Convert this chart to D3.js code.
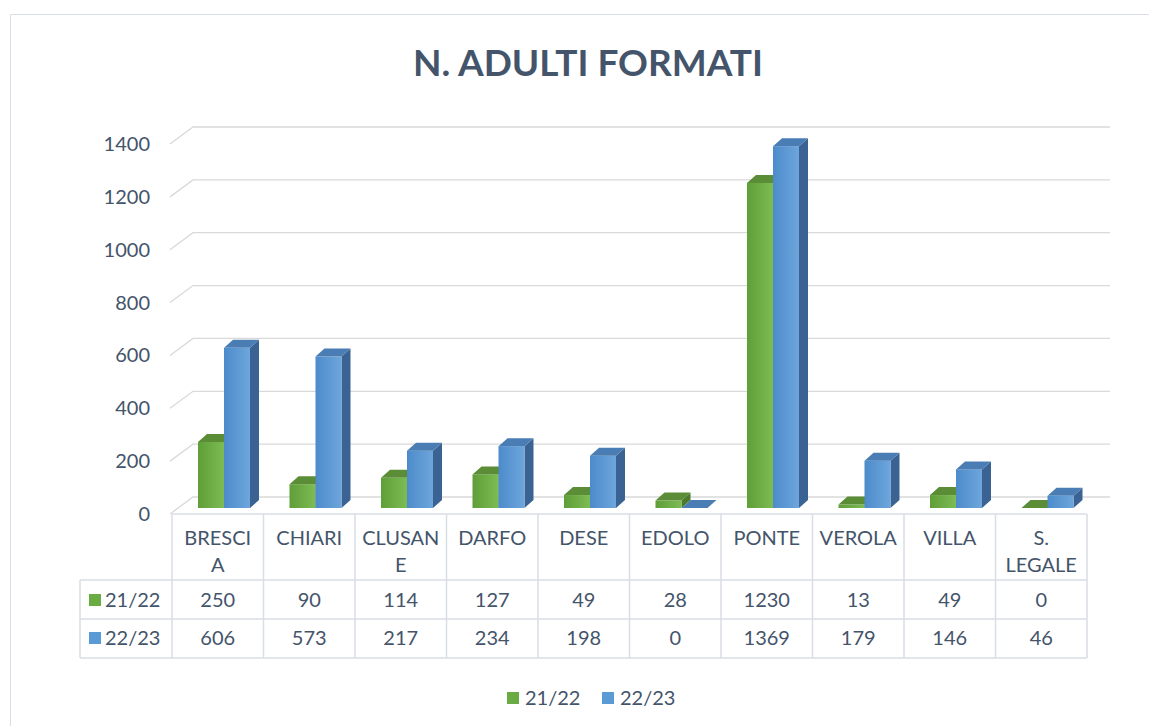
<!doctype html>
<html lang="it">
<head>
<meta charset="utf-8"/>
<title>N. ADULTI FORMATI</title>
<style>
  body { margin: 0; background: #fff; }
  text { font-family: Lato, "Open Sans", sans-serif; fill: #44546a; }
</style>
<script src="https://d3js.org/d3.v7.min.js"></script>
</head>
<body>
<svg width="1149" height="726"></svg>
<script>
var categories = ["BRESCIA", "CHIARI", "CLUSANE", "DARFO", "DESE", "EDOLO", "PONTE", "VEROLA", "VILLA", "S. LEGALE"];
// how labels wrap in the table header
var catLines = [["BRESCI", "A"], ["CHIARI"], ["CLUSAN", "E"], ["DARFO"], ["DESE"], ["EDOLO"], ["PONTE"], ["VEROLA"], ["VILLA"], ["S.", "LEGALE"]];
var series = ["21/22", "22/23"];
var values2122 = [250, 90, 114, 127, 49, 28, 1230, 13, 49, 0];
var values2223 = [606, 573, 217, 234, 198, 0, 1369, 179, 146, 46];
var yTicks = [0, 200, 400, 600, 800, 1000, 1200, 1400];

var svg = d3.select("svg");

// chart frame
svg.append("path")
   .attr("d", "M10.5,726 V14.5 H1149")
   .attr("fill", "none")
   .attr("stroke", "#d9dee6");

svg.append("text")
   .attr("x", 588)
   .attr("y", 76)
   .attr("text-anchor", "middle")
   .attr("font-size", "37px")
   .attr("font-weight", "bold")
   .text("N. ADULTI FORMATI");

var x = d3.scaleBand().domain(categories).range([172, 1087]);
var xs = d3.scaleBand().domain(series).range([26, 78]);
var h = d3.scaleLinear().domain([0, 1400]).range([0, 370]);

var gridFront = 514, gridBack = 497, backDx = 23;
var barBase = 508, depthX = 9, depthY = -8;

// gridlines (back wall + left wall)
var grid = svg.append("g");
yTicks.forEach(function(t) {
    var yf = gridFront - h(t), yb = gridBack - h(t);
    grid.append("path")
        .attr("d", "M170," + yf + " L" + (170 + backDx) + "," + yb + " H1110")
        .attr("fill", "none")
        .attr("stroke", "#d9d9d9")
        .attr("stroke-width", 1.3);
    grid.append("text")
        .attr("x", 150)
        .attr("y", yf)
        .attr("dy", "0.35em")
        .attr("text-anchor", "end")
        .attr("font-size", "20px")
        .text(t);
});

var defs = svg.append("defs");
function grad(id, c1, c2) {
    var g = defs.append("linearGradient").attr("id", id)
        .attr("x1", 0).attr("x2", 1).attr("y1", 0).attr("y2", 0);
    g.append("stop").attr("offset", "0%").attr("stop-color", c1);
    g.append("stop").attr("offset", "100%").attr("stop-color", c2);
}
grad("gGreen", "#5f9e38", "#7dbb53");
grad("gBlue", "#4c8bcb", "#6ea6dc");

var colors = {
    "21/22": { front: "url(#gGreen)", top: "#5b8c36", side: "#4b7a2c" },
    "22/23": { front: "url(#gBlue)", top: "#4a7db3", side: "#3a6393" }
};

var data = [];
categories.forEach(function(c, i) {
    data.push({ cat: c, s: "21/22", v: values2122[i] });
    data.push({ cat: c, s: "22/23", v: values2223[i] });
});

var bars = svg.append("g").selectAll("g").data(data).enter().append("g");
bars.each(function(d) {
    var g = d3.select(this);
    var x0 = x(d.cat) + xs(d.s), w = xs.bandwidth();
    var y0 = barBase, y1 = barBase - h(d.v);
    var col = colors[d.s];
    g.append("path")
     .attr("d", "M" + (x0 + w) + "," + y1 + " L" + (x0 + w + depthX) + "," + (y1 + depthY) +
           " L" + (x0 + w + depthX) + "," + (y0 + depthY) + " L" + (x0 + w) + "," + y0 + "Z")
     .attr("fill", col.side);
    g.append("rect")
     .attr("x", x0).attr("y", y1)
     .attr("width", w).attr("height", y0 - y1)
     .attr("fill", col.front);
    g.append("path")
     .attr("d", "M" + x0 + "," + y1 + " L" + (x0 + depthX) + "," + (y1 + depthY) +
           " L" + (x0 + w + depthX) + "," + (y1 + depthY) + " L" + (x0 + w) + "," + y1 + "Z")
     .attr("fill", col.top);
});

// data table
var tbl = svg.append("g").attr("stroke", "#d9dee6").attr("stroke-width", 1.5).attr("fill", "none");
var rowTop = 514, rowHead = 580, row1 = 619, row2 = 658, legLeft = 80;
tbl.append("line").attr("x1", 172).attr("x2", 1087).attr("y1", rowTop).attr("y2", rowTop);
tbl.append("line").attr("x1", legLeft).attr("x2", 1087).attr("y1", rowHead).attr("y2", rowHead);
tbl.append("line").attr("x1", legLeft).attr("x2", 1087).attr("y1", row1).attr("y2", row1);
tbl.append("line").attr("x1", legLeft).attr("x2", 1087).attr("y1", row2).attr("y2", row2);
tbl.append("line").attr("x1", legLeft).attr("x2", legLeft).attr("y1", rowHead).attr("y2", row2);
categories.forEach(function(c) {
    tbl.append("line").attr("x1", x(c)).attr("x2", x(c)).attr("y1", rowTop).attr("y2", row2);
});
tbl.append("line").attr("x1", 1087).attr("x2", 1087).attr("y1", rowTop).attr("y2", row2);

var txt = svg.append("g").attr("font-size", "20px").attr("text-anchor", "middle");
categories.forEach(function(c, i) {
    var cx = x(c) + x.bandwidth() / 2;
    catLines[i].forEach(function(line, j) {
        txt.append("text").attr("x", cx).attr("y", 538 + j * 27).attr("dy", "0.35em").text(line);
    });
    txt.append("text").attr("x", cx).attr("y", 600).attr("dy", "0.35em").text(values2122[i]);
    txt.append("text").attr("x", cx).attr("y", 638).attr("dy", "0.35em").text(values2223[i]);
});

// table row keys
var keyColors = ["#6aab43", "#5b9bd5"];
[600, 638].forEach(function(cy, i) {
    svg.append("rect").attr("x", 89).attr("y", cy - 6).attr("width", 12).attr("height", 12).attr("fill", keyColors[i]);
    svg.append("text").attr("x", 105).attr("y", cy).attr("dy", "0.35em").attr("font-size", "20px").text(series[i]);
});

// legend
var legX = [507, 602];
series.forEach(function(s, i) {
    svg.append("rect").attr("x", legX[i]).attr("y", 692).attr("width", 12).attr("height", 12).attr("fill", keyColors[i]);
    svg.append("text").attr("x", legX[i] + 18).attr("y", 698).attr("dy", "0.35em").attr("font-size", "20px").text(s);
});
</script>
</body>
</html>
